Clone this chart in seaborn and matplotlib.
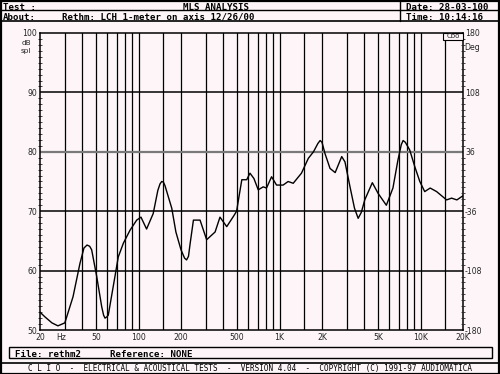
import matplotlib
matplotlib.use("Agg")
import matplotlib.pyplot as plt
from matplotlib.lines import Line2D
from matplotlib.patches import Rectangle
from matplotlib.ticker import NullLocator, FixedLocator
import numpy as np
import pandas as pd
import seaborn as sns

# ---------------- data ----------------
freq_hz = [20, 21.7, 24.3, 26.8, 30, 34.3, 38.4, 41, 43.1, 45.0, 46.5, 50.5, 54.8, 56.5, 57.8,
           59.5, 61, 68, 71.8, 78, 87, 97, 104, 114, 127, 137, 142, 146, 150, 154, 172, 184,
           200, 212, 219, 226, 232, 245, 273, 304, 349, 378, 422, 470, 496, 516, 540, 585,
           617, 658, 706, 766, 808, 878, 952, 1060, 1150, 1250, 1430, 1600, 1740, 1870, 1940,
           2000, 2100, 2280, 2480, 2760, 2910, 3160, 3400, 3610, 3800, 4020, 4550, 5000,
           5720, 6370, 6910, 7300, 7520, 7800, 8380, 9100, 9880, 10700, 11700, 13000, 15300,
           16600, 18100, 20000]
spl_db = [53.0, 52.2, 51.2, 50.7, 51.2, 55.6, 61.2, 63.8, 64.3, 64.1, 63.5, 59.0, 53.9, 52.5,
          52.0, 52.2, 52.5, 59.0, 62.3, 64.6, 66.8, 68.5, 69.0, 67.0, 69.6, 73.5, 74.6, 75.0,
          74.9, 74.3, 70.5, 66.5, 63.5, 62.1, 61.8, 62.4, 64.5, 68.5, 68.5, 65.2, 66.5, 69.0,
          67.4, 69.1, 70.0, 72.5, 75.3, 75.3, 76.4, 75.5, 73.6, 74.1, 73.9, 75.8, 74.4, 74.4,
          75.0, 74.7, 76.4, 78.9, 80.0, 81.4, 81.9, 81.6, 79.7, 77.2, 76.5, 79.2, 78.3, 74.1,
          70.5, 68.8, 69.8, 71.9, 74.8, 73.0, 71.0, 73.9, 78.6, 81.2, 81.9, 81.6, 80.3, 77.5,
          75.0, 73.3, 73.9, 73.3, 71.9, 72.2, 71.9, 72.6]

grid_freqs = [30, 40, 50, 60, 70, 80, 90, 100, 150, 200, 300, 400, 500, 600, 700, 800,
              900, 1000, 1500, 2000, 3000, 4000, 5000, 6000, 7000, 8000, 9000, 10000, 15000]
xtick_freqs = [20, 50, 100, 200, 500, 1000, 2000, 5000, 10000, 20000]
xtick_labels = ["20", "50", "100", "200", "500", "1K", "2K", "5K", "10K", "20K"]
ytick_db = [50, 60, 70, 80, 90, 100]
phase_ticks = [-180, -108, -36, 36, 108, 180]
phase_labels = ["-180", "-108", "-36", "36", "108", "180"]

# ---------------- styling ----------------
sns.set_style("white")
plt.rcParams["font.family"] = ["DejaVu Sans Mono", "DejaVu Sans"]
BG = "#fdf5f8"
W, H = 500, 374

fig = plt.figure(figsize=(W / 100, H / 100), dpi=100, facecolor=BG)


def fx(x):
    return x / W


def fy(y):
    return 1 - y / H


def hline(x0, x1, y, lw=1.0, color="black"):
    fig.add_artist(Line2D([fx(x0), fx(x1)], [fy(y), fy(y)], lw=lw, color=color,
                          transform=fig.transFigure))


def vline(x, y0, y1, lw=1.0, color="black"):
    fig.add_artist(Line2D([fx(x), fx(x)], [fy(y0), fy(y1)], lw=lw, color=color,
                          transform=fig.transFigure))


def text(x, y, s, size=6.6, ha="left", weight="bold", **kw):
    fig.text(fx(x), fy(y), s, fontsize=size, ha=ha, va="center_baseline", weight=weight,
             color="black", family="DejaVu Sans Mono", **kw)


# outer frame and header
fig.add_artist(Rectangle((fx(0.5), fy(373.5)), fx(499) - fx(0.5), fy(0.5) - fy(373.5),
                         fill=False, lw=1.6, ec="black", transform=fig.transFigure))
hline(0, 500, 10.3, lw=1.0)
hline(0, 500, 20.5, lw=1.2)
vline(399.5, 0, 20.5, lw=1.0)
text(3, 6, "Test :")
text(216, 6, "MLS ANALYSIS", ha="center")
text(406, 6, "Date: 28-03-100")
text(3, 16.5, "About:")
text(62, 16.5, "Rethm: LCH 1-meter on axis 12/26/00")
text(406, 16.5, "Time: 10:14:16")

# ---------------- main plot ----------------
L, R, T, B = 40, 463, 33, 330
ax = fig.add_axes([fx(L), fy(B), (R - L) / W, (B - T) / H])
ax.set_facecolor(BG)
df = pd.DataFrame({"freq": freq_hz, "spl": spl_db})
for f in grid_freqs:
    ax.axvline(f, color="black", lw=0.9, zorder=1)
for d in [60, 70, 90]:
    ax.axhline(d, color="black", lw=1.1, zorder=1)
ax.axhline(80, color="#7a7a7a", lw=1.6, zorder=1)
sns.lineplot(data=df, x="freq", y="spl", ax=ax, color="black", lw=1.0, zorder=3,
             sort=False)
ax.set_xscale("log")
ax.set_xlim(20, 20000)
ax.set_ylim(50, 100)
ax.set_xlabel("")
ax.set_ylabel("")
for s in ax.spines.values():
    s.set_color("black")
    s.set_linewidth(1.1)
ax.xaxis.set_major_locator(FixedLocator(xtick_freqs))
ax.set_xticklabels(xtick_labels)
ax.xaxis.set_minor_locator(NullLocator())
ax.tick_params(axis="x", length=0, pad=2.5, labelsize=5.6)
ax.set_yticks(ytick_db)
ax.set_yticklabels([str(v) for v in ytick_db])
ax.set_yticks(range(50, 101), minor=True)
ax.tick_params(axis="y", which="major", length=0, pad=2, labelsize=5.6)
ax.tick_params(axis="y", which="minor", length=2.2, width=0.6, direction="inout")
for lab in ax.get_xticklabels() + ax.get_yticklabels():
    lab.set_family("DejaVu Sans")

ax2 = ax.twinx()
ax2.set_ylim(-180, 180)
ax2.set_yticks(phase_ticks)
ax2.set_yticklabels(phase_labels)
ax2.set_yticks(np.arange(-180, 181, 7.2), minor=True)
ax2.tick_params(axis="y", which="major", length=0, pad=1.5, labelsize=5.6)
ax2.tick_params(axis="y", which="minor", length=2.2, width=0.6, direction="inout")
for lab in ax2.get_yticklabels():
    lab.set_family("DejaVu Sans")
for s in ax2.spines.values():
    s.set_visible(False)

# axis unit labels
fig.text(fx(26), fy(43), "dB", fontsize=5.3, ha="center", va="center", family="DejaVu Sans")
fig.text(fx(26), fy(51), "spl", fontsize=5.3, ha="center", va="center", family="DejaVu Sans")
fig.text(fx(472), fy(48), "Deg", fontsize=5.6, ha="center", va="center", family="DejaVu Sans")
fig.text(fx(61), fy(337), "Hz", fontsize=5.6, ha="center", va="center", family="DejaVu Sans")
fig.add_artist(Rectangle((fx(443), fy(39.5)), fx(463) - fx(443), fy(33) - fy(39.5),
                         fill=True, fc=BG, lw=0.8, ec="black", transform=fig.transFigure,
                         zorder=5))
fig.text(fx(453), fy(36.3), "Cbo", fontsize=5, ha="center", va="center",
         family="DejaVu Sans", zorder=6)

# file box and footer
fig.add_artist(Rectangle((fx(9), fy(357.5)), fx(492) - fx(9), fy(346.5) - fy(357.5),
                         fill=False, lw=1.0, ec="black", transform=fig.transFigure))
text(15, 353.5, "File: rethm2")
text(110, 353.5, "Reference: NONE")
hline(0, 500, 362.5, lw=1.2)
fig.text(fx(250), fy(368.3), "C L I O  -  ELECTRICAL & ACOUSTICAL TESTS  -  VERSION 4.04  -  "
         "COPYRIGHT (C) 1991-97 AUDIOMATICA", fontsize=5.5, ha="center", va="center",
         family="DejaVu Sans Mono", color="black")

fig.savefig("out.png", dpi=100, facecolor=BG)
